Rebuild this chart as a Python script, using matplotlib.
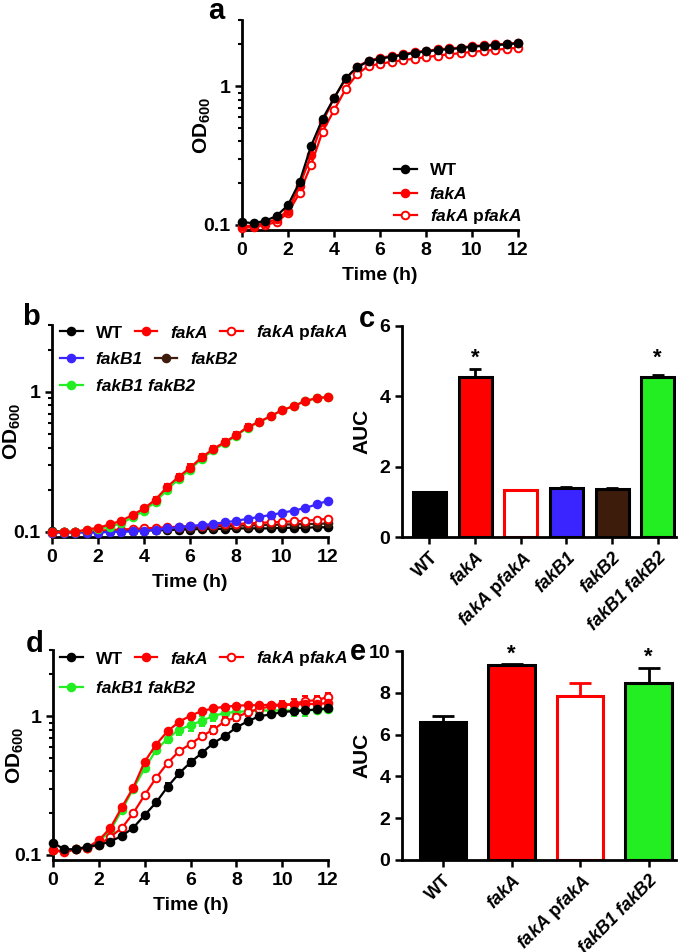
import matplotlib
matplotlib.use('Agg')
import matplotlib.pyplot as plt
from matplotlib.lines import Line2D
from matplotlib.ticker import LogLocator, FixedLocator, NullFormatter, FixedFormatter

plt.rcParams['font.family'] = ['Liberation Sans', 'DejaVu Sans']
plt.rcParams['font.weight'] = 'bold'
plt.rcParams['axes.labelweight'] = 'bold'
plt.rcParams['mathtext.fontset'] = 'custom'
plt.rcParams['mathtext.rm'] = 'Liberation Sans:bold'
plt.rcParams['mathtext.it'] = 'Liberation Sans:italic:bold'
plt.rcParams['mathtext.bf'] = 'Liberation Sans:bold'

# ---------------- data ----------------
time_h = [0, 0.5, 1, 1.5, 2, 2.5, 3, 3.5, 4, 4.5, 5, 5.5, 6, 6.5, 7, 7.5, 8, 8.5, 9, 9.5, 10, 10.5, 11, 11.5, 12]

# panel a
a_wt = [0.105, 0.103, 0.107, 0.116, 0.139, 0.203, 0.37, 0.58, 0.82, 1.14, 1.37, 1.51, 1.58, 1.63, 1.68, 1.74, 1.78, 1.82, 1.85, 1.88, 1.93, 1.95, 1.98, 2.0, 2.04]
a_fakA = [0.098, 0.099, 0.103, 0.11, 0.127, 0.19, 0.32, 0.55, 0.82, 1.12, 1.38, 1.53, 1.6, 1.65, 1.7, 1.76, 1.8, 1.84, 1.87, 1.9, 1.95, 1.97, 2.0, 2.02, 2.06]
a_pfakA = [0.095, 0.097, 0.1, 0.105, 0.122, 0.17, 0.27, 0.47, 0.67, 0.95, 1.22, 1.4, 1.45, 1.5, 1.54, 1.58, 1.62, 1.66, 1.7, 1.73, 1.77, 1.8, 1.83, 1.86, 1.9]

# panel b
b_wt = [0.102, 0.1, 0.1, 0.1, 0.1, 0.101, 0.101, 0.102, 0.102, 0.103, 0.103, 0.104, 0.104, 0.105, 0.105, 0.105, 0.106, 0.106, 0.106, 0.106, 0.107, 0.107, 0.107, 0.108, 0.108]
b_fakA = [0.1, 0.1, 0.1, 0.104, 0.107, 0.113, 0.12, 0.132, 0.147, 0.17, 0.209, 0.247, 0.287, 0.34, 0.39, 0.437, 0.49, 0.56, 0.61, 0.67, 0.74, 0.79, 0.86, 0.9, 0.92]
b_fakA_err = [0, 0, 0, 0, 0.002, 0.003, 0.004, 0.005, 0.006, 0.008, 0.012, 0.014, 0.016, 0.02, 0.02, 0.022, 0.025, 0.028, 0.028, 0.03, 0.03, 0.03, 0.025, 0.02, 0.015]
b_pfakA = [0.098, 0.1, 0.1, 0.101, 0.102, 0.103, 0.104, 0.105, 0.106, 0.107, 0.108, 0.109, 0.11, 0.111, 0.112, 0.113, 0.114, 0.115, 0.116, 0.117, 0.118, 0.119, 0.12, 0.122, 0.124]
b_fakB1 = [0.099, 0.099, 0.099, 0.099, 0.099, 0.1, 0.1, 0.101, 0.102, 0.104, 0.106, 0.108, 0.11, 0.112, 0.114, 0.117, 0.12, 0.124, 0.128, 0.132, 0.137, 0.142, 0.148, 0.157, 0.167]
b_fakB2 = [0.1, 0.1, 0.1, 0.1, 0.101, 0.101, 0.102, 0.102, 0.103, 0.104, 0.105, 0.106, 0.107, 0.108, 0.109, 0.11, 0.111, 0.111, 0.112, 0.112, 0.113, 0.113, 0.114, 0.114, 0.115]
b_fakB1B2 = [0.1, 0.1, 0.1, 0.103, 0.105, 0.109, 0.115, 0.127, 0.142, 0.164, 0.2, 0.238, 0.279, 0.332, 0.382, 0.43, 0.485, 0.555, 0.607, 0.668, 0.738, 0.79, 0.86, 0.9, 0.92]

# panel c
c_labels = ['WT', 'fakA', 'fakA pfakA', 'fakB1', 'fakB2', 'fakB1 fakB2']
c_auc = [1.27, 4.55, 1.33, 1.4, 1.36, 4.55]
c_err = [0.02, 0.23, 0.02, 0.03, 0.02, 0.05]
c_sig = [False, True, False, False, False, True]

# panel d
d_wt = [0.122, 0.11, 0.11, 0.115, 0.118, 0.125, 0.137, 0.157, 0.194, 0.239, 0.31, 0.387, 0.465, 0.544, 0.64, 0.72, 0.83, 0.92, 1.0, 1.03, 1.07, 1.09, 1.1, 1.12, 1.14]
d_wt_err = [0, 0, 0, 0, 0, 0, 0, 0, 0.005, 0.012, 0.018, 0.025, 0.03, 0.02, 0.015, 0.015, 0.015, 0.01, 0.01, 0.01, 0.02, 0.03, 0.03, 0.03, 0.03]
d_fakA = [0.108, 0.105, 0.11, 0.113, 0.128, 0.156, 0.22, 0.305, 0.47, 0.625, 0.78, 0.91, 1.01, 1.09, 1.14, 1.17, 1.19, 1.2, 1.2, 1.21, 1.21, 1.22, 1.22, 1.23, 1.24]
d_pfakA = [0.108, 0.106, 0.11, 0.113, 0.118, 0.135, 0.156, 0.2, 0.27, 0.36, 0.46, 0.56, 0.63, 0.72, 0.8, 0.92, 0.98, 1.07, 1.13, 1.18, 1.2, 1.22, 1.29, 1.3, 1.38]
d_pfakA_err = [0, 0, 0, 0, 0, 0, 0, 0, 0, 0, 0, 0, 0.02, 0.04, 0.05, 0.06, 0.06, 0.06, 0.06, 0.06, 0.08, 0.1, 0.1, 0.1, 0.1]
d_fakB1B2 = [0.108, 0.106, 0.11, 0.113, 0.125, 0.15, 0.21, 0.3, 0.42, 0.57, 0.69, 0.8, 0.86, 0.93, 1.0, 1.06, 1.07, 1.09, 1.1, 1.1, 1.1, 1.1, 1.1, 1.11, 1.12]
d_fakB1B2_err = [0, 0, 0, 0, 0, 0, 0, 0.01, 0.02, 0.03, 0.05, 0.07, 0.08, 0.08, 0.08, 0.06, 0.05, 0.04, 0.04, 0.05, 0.08, 0.1, 0.1, 0.06, 0.04]

# panel e
e_labels = ['WT', 'fakA', 'fakA pfakA', 'fakB1 fakB2']
e_auc = [6.6, 9.35, 7.85, 8.45]
e_err = [0.27, 0.02, 0.62, 0.75]
e_sig = [False, True, False, True]

# ---------------- style ----------------
RED = '#ff0000'
GREEN = '#22ee22'
BLUE = '#3a24ff'
BROWN = '#3d1c0c'
BLACK = '#000000'
FS = 14
LFS = 12.5
LW = 1.6
MS = 5.5

W, H = 682, 952
fig = plt.figure(figsize=(W / 100, H / 100), dpi=100)


def fmt(name):
    """Return (text, fontstyle) for a strain name."""
    if name == 'WT':
        return name, 'normal'
    if ' p' in name:
        a, b = name.split(' p')
        return r'$\mathit{%s}$ p$\mathit{%s}$' % (a, b), 'normal'
    return name, 'italic'


def add_ax(l, r, t, b):
    return fig.add_axes([l / W, 1 - b / H, (r - l) / W, (b - t) / H])


def style_ax(ax):
    for s in ['top', 'right']:
        ax.spines[s].set_visible(False)
    for s in ['left', 'bottom']:
        ax.spines[s].set_linewidth(2.0)
    ax.tick_params(which='major', direction='out', length=5, width=1.8, labelsize=FS, pad=3.5)
    ax.tick_params(which='minor', direction='out', length=3, width=1.5)
    for lab in ax.get_xticklabels() + ax.get_yticklabels():
        lab.set_fontweight('bold')


def style_growth(ax, ylab_x):
    ax.set_yscale('log')
    ax.set_xlim(0, 12)
    ax.set_ylim(0.092, 3.0)
    ax.set_xticks([0, 2, 4, 6, 8, 10, 12])
    ax.yaxis.set_major_locator(FixedLocator([0.1, 1]))
    ax.yaxis.set_major_formatter(FixedFormatter(['0.1', '1']))
    ax.yaxis.set_minor_locator(LogLocator(base=10, subs=[2, 3, 4, 5, 6, 7, 8, 9]))
    ax.yaxis.set_minor_formatter(NullFormatter())
    style_ax(ax)
    ax.set_xlabel('Time (h)', fontsize=FS, fontweight='bold', labelpad=6)
    ax.set_ylabel(r'OD$_{600}$', fontsize=15, fontweight='bold')
    ax.yaxis.set_label_coords(ylab_x, 0.5)


def curve(ax, y, color, filled=True, yerr=None, z=3):
    mfc = color if filled else 'white'
    ax.errorbar(time_h, y, yerr=yerr, color=color, lw=LW, marker='o', ms=MS,
                mfc=mfc, mec=color, mew=1.4, capsize=2.5, elinewidth=1.5,
                capthick=1.5, clip_on=False, zorder=z)


def handle(color, filled=True):
    return Line2D([], [], color=color, lw=LW, marker='o', ms=MS,
                  mfc=color if filled else 'white', mec=color, mew=1.4)


def row_legend(handles, names, x_px, y_px, colsp=0.7):
    texts = [fmt(n) for n in names]
    leg = fig.legend(handles, [t for t, _ in texts], loc='center left',
                     bbox_to_anchor=(x_px / W, 1 - y_px / H), bbox_transform=fig.transFigure,
                     ncol=len(handles), frameon=False, borderpad=0,
                     borderaxespad=0, handlelength=1.3, handletextpad=0.75,
                     columnspacing=colsp, prop={'weight': 'bold', 'size': LFS})
    for txt, (_, st) in zip(leg.get_texts(), texts):
        txt.set_fontstyle(st)
    return leg

# ---------------- panel a ----------------
ax_a = add_ax(242, 518, 20, 230)
curve(ax_a, a_pfakA, RED, filled=False, z=3)
curve(ax_a, a_fakA, RED, z=4)
curve(ax_a, a_wt, BLACK, z=5)
style_growth(ax_a, -0.105)
for i, (h, n) in enumerate([(handle(BLACK), 'WT'), (handle(RED), 'fakA'),
                            (handle(RED, False), 'fakA pfakA')]):
    row_legend([h], [n], 394, [170, 194, 217][i])

# ---------------- panel b ----------------
ax_b = add_ax(52, 328, 325, 537)
curve(ax_b, b_wt, BLACK, z=3)
curve(ax_b, b_fakB2, BROWN, z=3)
curve(ax_b, b_pfakA, RED, filled=False, z=4)
curve(ax_b, b_fakB1, BLUE, z=4)
curve(ax_b, b_fakB1B2, GREEN, z=5)
curve(ax_b, b_fakA, RED, yerr=b_fakA_err, z=6)
style_growth(ax_b, -0.105)
row_legend([handle(BLACK), handle(RED), handle(RED, False)], ['WT', 'fakA', 'fakA pfakA'], 60, 333)
row_legend([handle(BLUE), handle(BROWN)], ['fakB1', 'fakB2'], 60, 359)
row_legend([handle(GREEN)], ['fakB1 fakB2'], 60, 386)

# ---------------- panel d ----------------
ax_d = add_ax(53, 328, 650, 860)
curve(ax_d, d_fakB1B2, GREEN, yerr=d_fakB1B2_err, z=3)
curve(ax_d, d_pfakA, RED, filled=False, yerr=d_pfakA_err, z=4)
curve(ax_d, d_fakA, RED, z=5)
curve(ax_d, d_wt, BLACK, yerr=d_wt_err, z=6)
style_growth(ax_d, -0.10)
row_legend([handle(BLACK), handle(RED), handle(RED, False)], ['WT', 'fakA', 'fakA pfakA'], 60, 659)
row_legend([handle(GREEN)], ['fakB1 fakB2'], 60, 688)


# ---------------- bar panels ----------------
def bar_panel(ax, names, vals, errs, sigs, faces, edges, ymax, yticks, width, capsize, star_y):
    x = list(range(len(vals)))
    ax.bar(x, vals, width=width, color=faces, edgecolor=edges, linewidth=2.2, zorder=2)
    for xi, v, e, ec in zip(x, vals, errs, edges):
        ax.errorbar([xi], [v], yerr=[[0], [e]], color=ec, elinewidth=2, capsize=capsize,
                    capthick=2, fmt='none', zorder=1)
    for xi, s in zip(x, sigs):
        if s:
            ax.text(xi, star_y[xi], '*', ha='center', va='center', fontsize=FS + 2,
                    fontweight='bold', clip_on=False)
    ax.set_xlim(-0.6, len(vals) - 0.6)
    ax.set_ylim(0, ymax)
    ax.set_yticks(yticks)
    ax.set_xticks(x)
    texts = [fmt(n) for n in names]
    ax.set_xticklabels([t for t, _ in texts])
    style_ax(ax)
    for lab, (_, st) in zip(ax.get_xticklabels(), texts):
        lab.set_rotation(45)
        lab.set_ha('right')
        lab.set_rotation_mode('anchor')
        lab.set_fontstyle(st)
        lab.set_fontsize(13)
    ax.set_ylabel('AUC', fontsize=15, fontweight='bold')
    ax.yaxis.set_label_coords(-0.11, 0.5)


ax_c = add_ax(402, 676, 326, 537)
bar_panel(ax_c, c_labels, c_auc, c_err, c_sig,
          [BLACK, RED, 'white', BLUE, BROWN, GREEN],
          [BLACK, BLACK, RED, BLACK, BLACK, BLACK],
          6, [0, 2, 4, 6], 0.72, 4.5, [0, 5.08, 0, 0, 0, 5.08])

ax_e = add_ax(402, 676, 651, 860)
bar_panel(ax_e, e_labels, e_auc, e_err, e_sig,
          [BLACK, RED, 'white', GREEN],
          [BLACK, BLACK, RED, BLACK],
          10, [0, 2, 4, 6, 8, 10], 0.68, 8, [0, 9.85, 0, 9.7])

# panel letters (baseline positions)
for letter, (px, py) in {'a': (216, 19), 'b': (31, 325), 'c': (367, 327),
                         'd': (35, 652), 'e': (358, 660)}.items():
    fig.text(px / W, 1 - py / H, letter, fontsize=21, fontweight='bold',
             ha='center', va='baseline')

fig.savefig('out.png', dpi=100)
